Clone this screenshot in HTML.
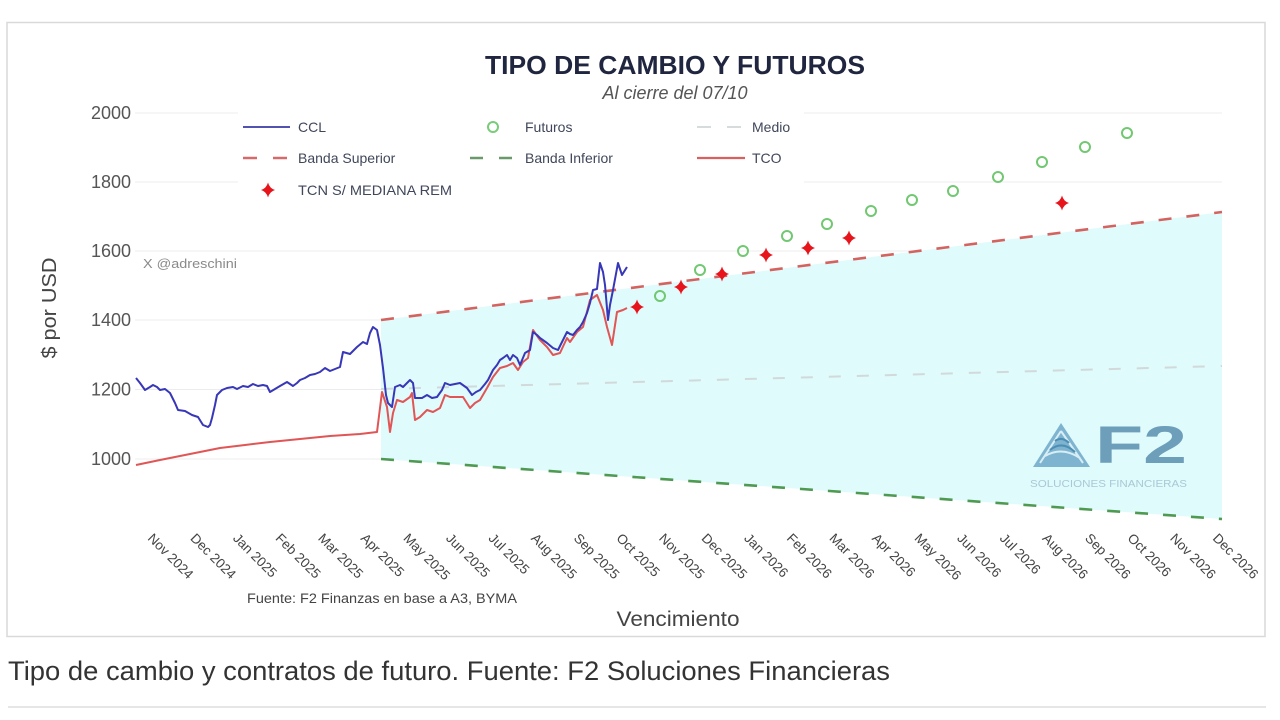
<!DOCTYPE html>
<html>
<head>
<meta charset="utf-8">
<style>
  html, body { margin: 0; padding: 0; background: #ffffff; }
  body { width: 1280px; height: 720px; overflow: hidden; }
  svg { display: block; font-family: "Liberation Sans", Arial, sans-serif; }
</style>
</head>
<body>
<svg width="1280" height="720" viewBox="0 0 1280 720" xmlns="http://www.w3.org/2000/svg">
  <rect x="0" y="0" width="1280" height="720" fill="#ffffff"/>
  <!-- chart frame -->
  <rect x="7" y="22.5" width="1258" height="614" fill="#ffffff" stroke="#d9d9d9" stroke-width="1.5"/>

  <!-- gridlines -->
  <g stroke="#ececec" stroke-width="1">
    <line x1="135" y1="113" x2="1222" y2="113"/>
    <line x1="135" y1="182" x2="1222" y2="182"/>
    <line x1="135" y1="251" x2="1222" y2="251"/>
    <line x1="135" y1="320" x2="1222" y2="320"/>
    <line x1="135" y1="389.5" x2="1222" y2="389.5"/>
    <line x1="135" y1="459" x2="1222" y2="459"/>
  </g>

  <!-- band fill -->
  <polygon points="381,320 1222,212 1222,519 381,459" fill="#e0fbfc"/>

  <!-- medio -->
  <line x1="381" y1="389" x2="1222" y2="366" stroke="#d2d9da" stroke-width="2" stroke-dasharray="12,16"/>
  <!-- banda superior -->
  <line x1="381" y1="320" x2="1222" y2="212" stroke="#d4625f" stroke-width="2.6" stroke-dasharray="13,15"/>
  <!-- banda inferior -->
  <line x1="381" y1="459" x2="1222" y2="519" stroke="#4f9a52" stroke-width="2.6" stroke-dasharray="13,15"/>

  <!-- y tick labels -->
  <g font-size="18" fill="#555" text-anchor="end">
    <text x="131" y="119">2000</text>
    <text x="131" y="188">1800</text>
    <text x="131" y="257">1600</text>
    <text x="131" y="326">1400</text>
    <text x="131" y="395.5">1200</text>
    <text x="131" y="465">1000</text>
  </g>
  <!-- y title -->
  <text transform="translate(56,308) rotate(-90)" text-anchor="middle" font-size="20" fill="#444" textLength="101" lengthAdjust="spacingAndGlyphs">$ por USD</text>

  <!-- watermark -->
  <text x="143" y="268" font-size="13" fill="#8a8a8a" textLength="94" lengthAdjust="spacingAndGlyphs">X @adreschini</text>

  <!-- title -->
  <text x="675" y="74" text-anchor="middle" font-size="26" font-weight="bold" fill="#20263f" textLength="380" lengthAdjust="spacingAndGlyphs">TIPO DE CAMBIO Y FUTUROS</text>
  <text x="675" y="99" text-anchor="middle" font-size="18" font-style="italic" fill="#555" textLength="145" lengthAdjust="spacingAndGlyphs">Al cierre del 07/10</text>

  <!-- TCO -->
  <polyline fill="none" stroke="#e05555" stroke-width="2" stroke-linejoin="round" points="136,465 160,460 180,456 200,452 220,448 245,445 270,442 300,439 330,436 360,434 377,432 382,392 387,407 390,432 393,413 397,400 403,402 410,397 412,393 415,420 420,417 427,410 433,412 440,408 445,395 450,397 457,397 463,397 470,408 475,403 480,400 487,388 493,377 500,368 507,366 513,363 518,370 523,362 528,358 533,330 540,340 547,347 553,355 560,353 567,338 570,342 577,332 583,327 590,300 597,295 603,310 607,327 612,345 617,312 623,310 627,308"/>

  <!-- CCL -->
  <polyline fill="none" stroke="#3737b8" stroke-width="2" stroke-linejoin="round" points="136,378 140,383 145,390 150,387 153,385 157,387 160,390 165,389 170,393 175,403 178,410 185,411 192,415 198,417 203,425 208,427 210,425 212,418 215,405 217,395 222,390 227,388 233,387 237,389 243,386 248,387 253,384 258,386 263,385 267,386 270,392 275,389 280,386 287,382 293,386 297,383 300,380 305,378 310,375 315,374 320,372 325,368 330,371 335,369 340,367 343,352 350,354 357,347 363,342 367,344 370,333 373,327 377,330 380,345 383,368 386,395 388,403 392,407 395,387 400,385 403,387 407,383 410,380 413,383 415,398 422,398 427,395 432,398 437,397 442,390 445,383 450,385 455,384 460,383 467,388 472,395 476,392 480,390 485,384 488,380 493,370 497,365 500,360 503,358 507,355 510,360 513,355 517,358 520,365 525,353 530,350 533,332 537,335 540,338 547,343 553,348 558,350 563,340 567,332 570,334 573,335 577,330 580,327 583,322 587,313 590,303 593,290 597,289 600,263 603,272 605,285 608,320 610,305 613,290 618,263 622,275 627,267"/>

  <!-- Futuros -->
  <g fill="none" stroke="#72c872" stroke-width="2">
    <circle cx="660" cy="296" r="5"/>
    <circle cx="700" cy="270" r="5"/>
    <circle cx="743" cy="251" r="5"/>
    <circle cx="787" cy="236" r="5"/>
    <circle cx="827" cy="224" r="5"/>
    <circle cx="871" cy="211" r="5"/>
    <circle cx="912" cy="200" r="5"/>
    <circle cx="953" cy="191" r="5"/>
    <circle cx="998" cy="177" r="5"/>
    <circle cx="1042" cy="162" r="5"/>
    <circle cx="1085" cy="147" r="5"/>
    <circle cx="1127" cy="133" r="5"/>
  </g>

  <!-- TCN stars -->
  <defs>
    <path id="star" d="M0,-7.5 Q1.6,-1.6 7,0 Q1.6,1.6 0,7.5 Q-1.6,1.6 -7,0 Q-1.6,-1.6 0,-7.5 Z"/>
  </defs>
  <g fill="#e8141c">
    <use href="#star" x="637" y="307"/>
    <use href="#star" x="681" y="287"/>
    <use href="#star" x="722" y="274"/>
    <use href="#star" x="766" y="255"/>
    <use href="#star" x="808" y="248"/>
    <use href="#star" x="849" y="238"/>
    <use href="#star" x="1062" y="203"/>
  </g>

  <!-- legend -->
  <rect x="238" y="108" width="566" height="96" fill="#ffffff"/>
  <g font-size="14" fill="#40475a">
    <line x1="243" y1="127" x2="290" y2="127" stroke="#5252b0" stroke-width="2"/>
    <text x="298" y="132">CCL</text>
    <circle cx="493" cy="127" r="5" fill="none" stroke="#7acb7a" stroke-width="2"/>
    <text x="525" y="132">Futuros</text>
    <line x1="697" y1="127" x2="745" y2="127" stroke="#d6dcdc" stroke-width="2" stroke-dasharray="14,16"/>
    <text x="752" y="132">Medio</text>

    <line x1="243" y1="158" x2="290" y2="158" stroke="#d46a6a" stroke-width="2.5" stroke-dasharray="14,16"/>
    <text x="298" y="163">Banda Superior</text>
    <line x1="470" y1="158" x2="512" y2="158" stroke="#6a9a6c" stroke-width="2.5" stroke-dasharray="13,16"/>
    <text x="525" y="163">Banda Inferior</text>
    <line x1="697" y1="158" x2="745" y2="158" stroke="#d86060" stroke-width="2.2"/>
    <text x="752" y="163">TCO</text>

    <use href="#star" x="268" y="190" fill="#e8141c"/>
    <text x="298" y="195" textLength="154" lengthAdjust="spacingAndGlyphs">TCN S/ MEDIANA REM</text>
  </g>

  <!-- x tick labels -->
  <g font-size="13.5" fill="#444">
    <text transform="translate(147,539) rotate(45)">Nov 2024</text>
    <text transform="translate(189.6,539) rotate(45)">Dec 2024</text>
    <text transform="translate(232.2,539) rotate(45)">Jan 2025</text>
    <text transform="translate(274.8,539) rotate(45)">Feb 2025</text>
    <text transform="translate(317.4,539) rotate(45)">Mar 2025</text>
    <text transform="translate(360,539) rotate(45)">Apr 2025</text>
    <text transform="translate(402.6,539) rotate(45)">May 2025</text>
    <text transform="translate(445.2,539) rotate(45)">Jun 2025</text>
    <text transform="translate(487.8,539) rotate(45)">Jul 2025</text>
    <text transform="translate(530.4,539) rotate(45)">Aug 2025</text>
    <text transform="translate(573,539) rotate(45)">Sep 2025</text>
    <text transform="translate(615.6,539) rotate(45)">Oct 2025</text>
    <text transform="translate(658.2,539) rotate(45)">Nov 2025</text>
    <text transform="translate(700.8,539) rotate(45)">Dec 2025</text>
    <text transform="translate(743.4,539) rotate(45)">Jan 2026</text>
    <text transform="translate(786,539) rotate(45)">Feb 2026</text>
    <text transform="translate(828.6,539) rotate(45)">Mar 2026</text>
    <text transform="translate(871.2,539) rotate(45)">Apr 2026</text>
    <text transform="translate(913.8,539) rotate(45)">May 2026</text>
    <text transform="translate(956.4,539) rotate(45)">Jun 2026</text>
    <text transform="translate(999,539) rotate(45)">Jul 2026</text>
    <text transform="translate(1041.6,539) rotate(45)">Aug 2026</text>
    <text transform="translate(1084.2,539) rotate(45)">Sep 2026</text>
    <text transform="translate(1126.8,539) rotate(45)">Oct 2026</text>
    <text transform="translate(1169.4,539) rotate(45)">Nov 2026</text>
    <text transform="translate(1212,539) rotate(45)">Dec 2026</text>
  </g>

  <!-- source note -->
  <text x="247" y="603" font-size="13.5" fill="#444" textLength="270" lengthAdjust="spacingAndGlyphs">Fuente: F2 Finanzas en base a A3, BYMA</text>
  <!-- x title -->
  <text x="678" y="626" text-anchor="middle" font-size="21" fill="#444" textLength="123" lengthAdjust="spacingAndGlyphs">Vencimiento</text>

  <!-- F2 logo -->
  <g>
    <polygon points="1061,423 1033,467 1090,467" fill="#7fb4d0"/>
    <path d="M1061,431 L1040,463 M1061,431 L1083,463 M1045,456 Q1062,446 1080,458" stroke="#d8eef5" stroke-width="2" fill="none"/>
    <path d="M1050,450 Q1062,440 1075,452 M1055,441 Q1062,436 1069,443" stroke="#4d8fb4" stroke-width="2" fill="none"/>
    <text x="1095" y="463" font-size="53" font-weight="bold" fill="#6d9eba" textLength="92" lengthAdjust="spacingAndGlyphs">F2</text>
    <text x="1030" y="487" font-size="10" fill="#a9c8d7" textLength="157" lengthAdjust="spacingAndGlyphs">SOLUCIONES FINANCIERAS</text>
  </g>

  <!-- caption -->
  <text x="8" y="680" font-size="27" fill="#333" textLength="882" lengthAdjust="spacingAndGlyphs">Tipo de cambio y contratos de futuro. Fuente: F2 Soluciones Financieras</text>
  <line x1="8" y1="707" x2="1266" y2="707" stroke="#e6e6e6" stroke-width="2"/>
</svg>
</body>
</html>
